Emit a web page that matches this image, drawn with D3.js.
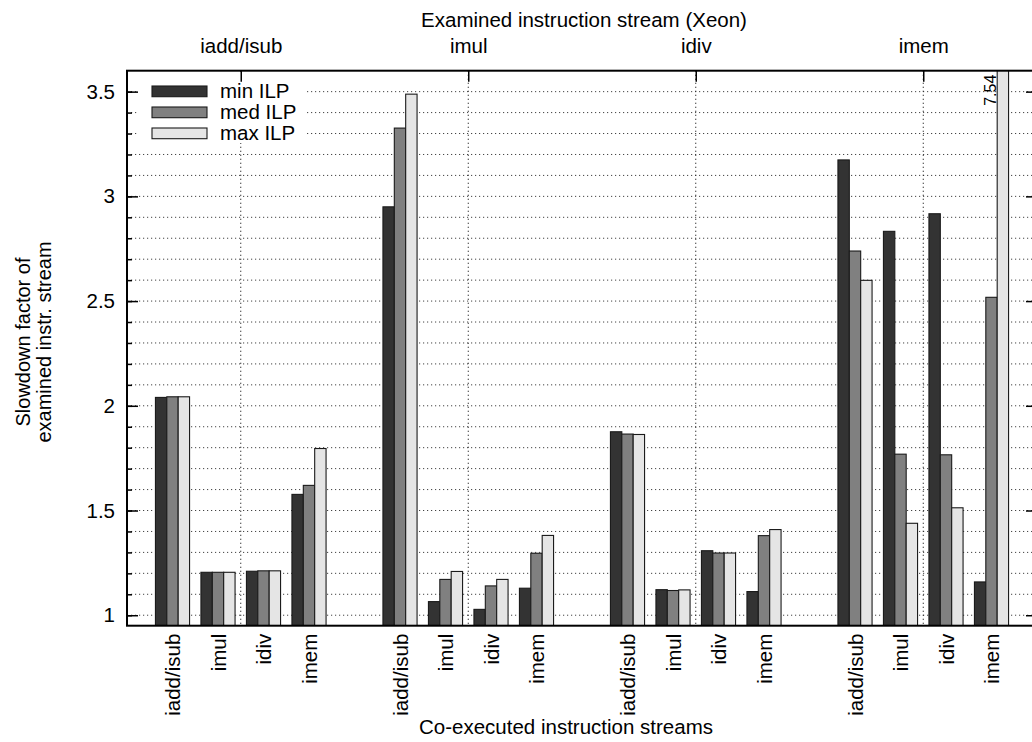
<!DOCTYPE html>
<html>
<head>
<meta charset="utf-8">
<script src="https://cdn.jsdelivr.net/npm/d3@7/dist/d3.min.js"></script>
<style>
    body { margin: 0; background: #fff; }
    svg text { font-family: "Liberation Sans", Arial, Helvetica, sans-serif; fill: #000; }
</style>
</head>
<body>
<svg id="chart" width="1032" height="742"></svg>
<script>
// examined streams (top axis) and co-executed streams (bottom axis)
const groups = ["iadd/isub", "imul", "idiv", "imem"];
const coexec = ["iadd/isub", "imul", "idiv", "imem"];
const series = ["min ILP", "med ILP", "max ILP"];
const colors = ["#333333", "#808080", "#e5e5e5"];

// slowdown values, 4 co-executed streams per examined stream, in group order
const minILP = [2.04, 1.205, 1.21, 1.577,  2.95, 1.065, 1.028, 1.129,  1.876, 1.122, 1.308, 1.113,  3.174, 2.833, 2.917, 1.159];
const medILP = [2.043, 1.205, 1.212, 1.62,  3.326, 1.171, 1.14, 1.296,  1.865, 1.118, 1.297, 1.38,  2.739, 1.769, 1.766, 2.518];
const maxILP = [2.043, 1.205, 1.212, 1.796,  3.488, 1.209, 1.171, 1.381,  1.863, 1.121, 1.297, 1.409,  2.599, 1.439, 1.513, 7.54];

const yMajor = [1, 1.5, 2, 2.5, 3, 3.5];
const yMinor = d3.range(10, 36).map(d => d / 10);

let margin = {top: 70.7, left: 127, bottom: 625.7, right: 1037};
let fs = "20.5px";

let svg = d3.select("#chart");

let x = d3.scaleLinear()
    .domain([-1, 19])
    .range([margin.left, margin.right]);

let y = d3.scaleLinear()
    .domain([0.95, 3.6])
    .range([margin.bottom, margin.top]);

let data = [];
groups.forEach(function (g, gi) {
    coexec.forEach(function (c, ci) {
        let idx = gi * 4 + ci;
        let pos = gi * 5 + ci;
        [minILP[idx], medILP[idx], maxILP[idx]].forEach(function (v, si) {
            data.push({pos: pos, s: si, value: v});
        });
    });
});
let positions = [];
groups.forEach((g, gi) => coexec.forEach((c, ci) => positions.push(gi * 5 + ci)));

svg.append("defs").append("clipPath").attr("id", "plotclip")
    .append("rect")
    .attr("x", margin.left).attr("y", margin.top)
    .attr("width", margin.right - margin.left)
    .attr("height", margin.bottom - margin.top);

// grid
let grid = svg.append("g");
grid.selectAll("line.h")
    .data(yMinor)
    .enter().append("line")
    .attr("x1", margin.left).attr("x2", margin.right)
    .attr("y1", d => y(d)).attr("y2", d => y(d))
    .attr("stroke", "#444")
    .attr("stroke-width", 1)
    .attr("stroke-dasharray", "1.2,2.8");
grid.selectAll("line.v")
    .data(groups)
    .enter().append("line")
    .attr("x1", (d, i) => x(i * 5 + 1.5)).attr("x2", (d, i) => x(i * 5 + 1.5))
    .attr("y1", margin.top).attr("y2", margin.bottom)
    .attr("stroke", "#222")
    .attr("stroke-width", 1)
    .attr("stroke-dasharray", "1.2,2.8");

// bars
let bw = x(0.25) - x(0);
svg.append("g")
    .attr("clip-path", "url(#plotclip)")
    .selectAll("rect")
    .data(data)
    .enter().append("rect")
    .attr("x", d => x(d.pos - 0.375 + d.s * 0.25))
    .attr("width", bw)
    .attr("y", d => y(d.value))
    .attr("height", d => y(0.95) - y(d.value))
    .attr("fill", d => colors[d.s])
    .attr("stroke", "#1a1a1a")
    .attr("stroke-width", 1.1);

// label for the clipped bar
let over = data.filter(d => d.value > 3.6);
svg.selectAll("text.over")
    .data(over)
    .enter().append("text")
    .attr("transform", d => "translate(" + (x(d.pos - 0.375 + d.s * 0.25) - 1) + "," + (margin.top + 4) + ") rotate(-90)")
    .attr("text-anchor", "end")
    .style("font-size", "16px")
    .text(d => d.value.toFixed(2));

// legend
let legend = svg.append("g");
legend.append("rect")
    .attr("x", 139).attr("y", 72)
    .attr("width", 166).attr("height", 71)
    .attr("fill", "#fff");
series.forEach(function (s, i) {
    let ly = 86 + i * 21;
    legend.append("rect")
        .attr("x", 152).attr("y", ly)
        .attr("width", 55).attr("height", 10.7)
        .attr("fill", colors[i])
        .attr("stroke", "#1a1a1a")
        .attr("stroke-width", 1.1);
    legend.append("text")
        .attr("x", 220).attr("y", ly + 5.3)
        .attr("dy", "0.35em")
        .style("font-size", fs)
        .text(s);
});

// axes
let axLeft = svg.append("g")
    .attr("transform", "translate(" + margin.left + ",0)")
    .call(d3.axisLeft(y).tickValues(yMajor).tickSize(-11).tickPadding(12).tickFormat(d3.format("")));
let axLeftMinor = svg.append("g")
    .attr("transform", "translate(" + margin.left + ",0)")
    .call(d3.axisLeft(y).tickValues(yMinor).tickSize(-5).tickFormat(""));
let axRight = svg.append("g")
    .attr("transform", "translate(" + margin.right + ",0)")
    .call(d3.axisRight(y).tickValues(yMajor).tickSize(-11).tickFormat(""));
let axRightMinor = svg.append("g")
    .attr("transform", "translate(" + margin.right + ",0)")
    .call(d3.axisRight(y).tickValues(yMinor).tickSize(-5).tickFormat(""));
let axTop = svg.append("g")
    .attr("transform", "translate(0," + margin.top + ")")
    .call(d3.axisTop(x).tickValues([1.5, 6.5, 11.5, 16.5]).tickSize(-11).tickPadding(18)
        .tickFormat((d, i) => groups[i]));
let axBottom = svg.append("g")
    .attr("transform", "translate(0," + margin.bottom + ")")
    .call(d3.axisBottom(x).tickValues(positions).tickSize(0)
        .tickFormat((d, i) => coexec[i % 4]));
axBottom.selectAll("text")
    .attr("transform", "rotate(-90)")
    .attr("text-anchor", "end")
    .attr("x", -8)
    .attr("y", 0)
    .attr("dy", "0.35em");

[axLeft, axLeftMinor, axRight, axRightMinor, axTop, axBottom].forEach(function (a) {
    a.select(".domain").remove();
    a.selectAll("line").attr("stroke", "#000").attr("stroke-width", 1.5);
    a.selectAll("text").style("font-size", fs).attr("fill", "#000");
});

// border
svg.append("rect")
    .attr("x", margin.left).attr("y", margin.top)
    .attr("width", margin.right - margin.left)
    .attr("height", margin.bottom - margin.top)
    .attr("fill", "none")
    .attr("stroke", "#000")
    .attr("stroke-width", 2);

// titles
svg.append("text")
    .attr("x", 584).attr("y", 27)
    .attr("text-anchor", "middle")
    .style("font-size", fs)
    .text("Examined instruction stream (Xeon)");
svg.append("text")
    .attr("x", 566).attr("y", 734)
    .attr("text-anchor", "middle")
    .style("font-size", fs)
    .text("Co-executed instruction streams");
let ylab = svg.append("text")
    .attr("transform", "translate(0,342) rotate(-90)")
    .attr("text-anchor", "middle")
    .style("font-size", "20px");
ylab.append("tspan").attr("x", 0).attr("y", 30).text("Slowdown factor of");
ylab.append("tspan").attr("x", 0).attr("y", 51).text("examined instr. stream");
</script>
</body>
</html>
